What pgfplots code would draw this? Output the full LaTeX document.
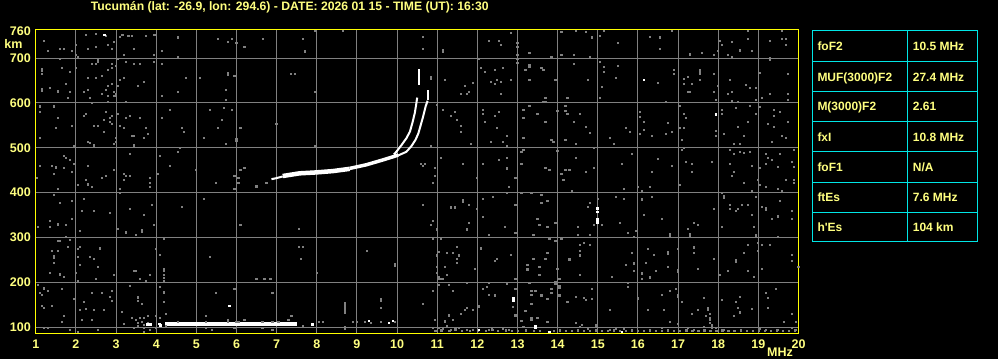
\documentclass[border=0pt]{standalone}
\usepackage{pgfplots}
\pgfplotsset{compat=1.18}
\usepackage{fontspec}
\setmainfont{Liberation Sans}
\definecolor{frameyellow}{RGB}{255,255,0}
\definecolor{textyellow}{RGB}{255,255,128}
\definecolor{noisegray}{RGB}{128,128,128}
\definecolor{tablecyan}{RGB}{0,230,230}
\newcommand\tfont{\fontsize{12bp}{14bp}\selectfont\bfseries}
\begin{document}
\begin{tikzpicture}
\fill[black] (0bp,0bp) rectangle (998bp,359bp);
\begin{axis}[
  at={(35.8bp,25.7bp)}, anchor=south west,
  scale only axis, width=762.7bp, height=303.8bp,
  xmin=1, xmax=20, ymin=86, ymax=764,
  axis background/.style={fill=black},
  axis line style={frameyellow, line width=1bp},
  xtick={1,...,20}, ytick={100,200,...,700},
  extra y ticks={760}, extra y tick style={grid=none},
  grid=major, major grid style={noisegray, line width=1bp},
  major tick length=0pt,
  /pgf/number format/assume math mode=true,
  tick label style={font=\fontsize{12.5bp}{14bp}\selectfont\bfseries, text=textyellow},
  xticklabel style={anchor=center, yshift=-10.7bp},
  yticklabel style={anchor=east, inner sep=0pt, xshift=-4.8bp},
  clip=true,
]
% gray noise
\addplot[only marks, mark=square*, mark size=0.6bp, noisegray, mark options={draw=none, fill=noisegray}] coordinates {
(2.24,753)(2.49,754)(2.74,750)(2.95,736)(3.10,748)(3.15,752)(3.30,750)(3.39,750)(3.74,750)(3.95,753)(4.54,747)(5.54,744)(5.79,737)(5.89,744)(5.99,735)(6.19,726)(6.65,744)(1.19,739)(1.99,730)(2.49,726)(2.79,730)(1.29,717)(1.59,721)(1.69,721)(1.89,717)(2.29,721)(2.89,721)(3.44,721)(4.14,717)(1.99,708)(2.04,703)(3.19,708)(3.94,708)(4.54,703)(1.59,699)(2.54,696)(2.39,688)(2.49,688)(2.54,692)(2.89,688)(3.04,698)(2.99,683)(3.24,692)(3.44,688)(3.59,688)(3.94,692)(4.14,688)(1.14,677)(1.14,672)(1.64,679)(1.14,666)(1.84,670)(2.89,679)(2.79,674)(1.99,679)(5.79,668)(5.79,664)(5.94,661)(2.29,657)(2.49,657)(2.64,661)(3.19,657)(3.09,652)(4.74,657)(5.09,657)(3.69,648)(1.74,643)(2.79,639)(2.89,643)(3.04,639)(3.54,639)(1.14,632)(1.14,628)(1.34,634)(1.54,628)(1.54,625)(1.84,625)(2.19,625)(2.29,630)(2.74,630)(2.64,621)(2.94,625)(2.99,621)(2.99,617)(4.54,625)(5.74,630)(1.79,612)(2.34,612)(2.79,616)(2.94,616)(4.14,616)(5.74,607)(2.39,601)(2.79,603)(3.24,603)
(1.09,593)(1.44,593)(1.09,581)(2.24,576)(2.19,572)(2.74,581)(2.89,572)(2.84,567)(3.04,576)(3.24,567)(3.34,572)(3.59,567)(4.14,567)(4.34,585)(5.34,585)(5.69,590)(5.89,585)(1.54,567)(2.69,563)(2.84,558)(2.89,554)(5.64,563)(1.89,549)(2.44,549)(2.54,549)(3.09,549)(3.19,545)(3.74,545)(4.64,545)(5.54,545)(6.09,545)(1.49,545)(6.99,554)(2.69,536)(4.69,536)(3.79,532)(3.39,527)(3.44,527)(1.09,523)(2.99,523)(3.69,523)(5.19,523)(5.99,520)(5.99,517)(2.29,514)(2.34,512)(2.44,507)(2.44,504)(2.94,509)(2.99,514)(3.44,507)(3.44,504)(5.74,509)(1.94,505)(4.59,500)
(1.69,483)(1.74,478)(1.84,474)(3.34,487)(4.09,483)(4.54,491)(1.94,465)(1.09,460)(1.39,460)(1.49,458)(1.49,456)(1.69,456)(2.29,460)(4.34,460)(6.09,451)(6.19,456)(1.89,447)(2.94,451)(4.99,451)(1.44,442)(2.74,438)(2.64,433)(3.19,442)(3.24,438)(3.34,438)(4.04,442)(5.94,438)(6.04,433)(2.24,429)(3.84,433)(1.02,433)(3.19,429)
(7.94,761)(8.64,761)(7.64,744)(7.69,714)(7.69,717)(10.64,748)(10.64,721)(11.14,718)(11.14,715)(12.84,757)(12.29,739)(12.54,739)(12.59,730)(12.99,735)(12.99,726)(13.29,712)(12.99,708)(12.04,699)(12.99,699)(7.35,666)(7.44,666)(7.94,625)(7.94,505)(10.84,659)(10.84,655)(11.19,652)(11.89,645)(11.69,639)(11.79,625)(11.59,621)(11.74,621)(12.09,679)(12.19,670)(12.44,674)(12.64,679)(12.84,652)(12.34,648)(12.44,643)(12.49,652)(12.59,648)(12.99,690)(13.29,686)(13.29,682)(13.29,652)(13.19,674)(13.59,679)(13.64,674)(12.59,621)(10.99,596)(11.14,585)(11.34,572)(11.44,581)(11.49,563)(11.59,549)(11.59,536)(12.14,585)(12.14,576)(12.54,581)(12.44,572)(12.19,558)(12.49,545)(13.29,594)(13.14,585)(13.49,576)(13.14,567)(12.74,527)(12.34,514)(12.64,514)(12.74,505)(13.14,523)(13.14,496)(13.09,491)(11.84,509)(11.09,478)(10.84,505)(10.59,465)(10.64,460)(10.69,465)(10.94,456)(10.94,438)(11.64,465)(12.14,465)(12.54,474)(12.74,478)(12.74,456)(12.74,453)(13.09,465)(11.99,433)(12.94,433)(13.64,603)
(14.09,759)(14.44,762)(14.69,759)(14.84,747)(15.04,751)(15.14,762)(15.49,735)(16.29,748)(16.54,747)(16.54,721)(16.84,762)(17.29,709)(17.59,712)(17.89,708)(17.99,717)(18.04,739)(18.09,730)(18.34,736)(18.54,718)(18.74,762)(18.74,744)(18.84,717)(18.24,708)(18.34,703)(19.29,739)(19.29,700)(19.59,762)(19.59,744)(19.69,744)(19.69,730)(13.84,703)(14.09,708)(14.39,708)(14.79,703)(14.39,688)(15.04,692)(15.14,681)(15.14,670)(15.49,683)(15.44,657)(14.74,652)(13.94,652)(16.49,645)(16.89,674)(16.89,666)(17.24,659)(17.14,654)(17.14,643)(17.34,643)(17.54,674)(17.54,670)(17.54,666)(17.54,652)(17.89,666)(18.29,652)(18.69,641)(18.79,634)(18.94,634)(17.99,639)(17.89,625)(18.24,621)(18.34,625)(17.24,625)(17.29,625)(15.09,637)(19.04,668)(19.29,697)(19.74,666)(19.74,621)(19.74,607)(19.09,612)(19.29,621)(18.94,607)(17.94,607)(18.34,605)(18.49,603)(16.69,603)(15.04,612)(14.24,612)(13.69,612)(13.69,603)(14.19,594)(13.99,583)(14.19,583)(14.24,576)(14.54,576)(13.69,558)(14.39,558)(14.69,547)(14.79,534)(13.84,518)(13.89,514)(14.19,518)(14.44,509)(15.29,523)(15.39,509)(15.69,545)(15.79,536)(16.04,581)(16.04,570)(16.14,558)(16.14,541)(16.04,532)(16.34,527)(16.69,532)(16.74,556)(16.84,536)(17.04,594)(17.14,576)(17.19,567)(17.04,545)(17.14,545)(17.09,518)(18.09,585)(18.09,576)(18.44,590)(17.94,538)(17.94,527)(18.14,532)(18.49,547)(18.64,527)(18.74,558)(18.39,509)(18.54,509)(18.79,594)(18.94,576)(19.04,592)(19.39,585)(19.54,581)(19.39,572)(19.24,554)(19.39,547)(19.74,558)(19.59,527)(19.69,523)(19.34,514)(14.89,500)(13.99,494)(14.44,478)(13.69,456)(13.79,451)(14.19,451)(14.29,451)(14.69,447)(14.89,456)(14.09,442)(14.14,429)(15.59,465)(15.84,487)(16.49,476)(16.84,460)(16.34,447)(17.19,469)(17.34,465)(17.34,447)(17.14,500)(17.09,496)(17.84,469)(18.29,496)(18.39,487)(18.54,491)(18.64,489)(18.79,491)(18.29,465)(18.34,438)(18.39,447)(18.84,460)(19.19,487)(19.24,478)(19.34,474)(19.54,487)(19.19,465)(19.49,458)(19.89,496)(19.89,458)(19.84,469)(19.04,456)(19.69,429)(19.89,429)(18.99,429)
(1.54,409)(2.04,418)(2.29,420)(2.29,417)(2.39,413)(3.09,409)(3.09,400)(3.84,422)(3.84,413)(5.49,422)(5.94,409)(6.04,422)(6.49,416)(6.49,413)(6.74,422)(1.44,395)(1.59,378)(1.89,382)(2.19,386)(2.14,360)(2.44,360)(2.84,355)(3.34,364)(3.69,351)(3.89,373)(4.64,369)(5.19,386)(6.09,328)(1.04,324)(1.34,337)(1.34,324)(1.54,331)(1.54,328)(1.74,328)(1.89,342)(2.09,315)(3.04,320)(3.24,313)(3.24,310)(3.49,306)(3.64,317)(3.64,314)(3.94,328)(1.74,302)(1.84,295)(1.54,293)(1.59,293)(1.79,279)(2.04,275)(2.09,279)(1.39,270)(1.54,270)(1.44,259)(1.44,256)(2.04,257)(2.34,257)(2.44,253)(2.59,277)(2.59,274)(2.09,239)(2.54,235)(1.44,244)(1.34,221)(1.59,219)(1.59,216)(1.69,212)(1.99,221)(2.49,208)(2.94,217)(2.04,203)(3.44,226)(3.49,226)(3.59,208)(3.74,203)(3.84,217)(3.99,275)(4.09,261)(4.19,297)(4.19,230)(4.19,225)(4.19,217)(4.19,210)(4.19,203)(5.34,257)(6.49,208)(6.69,208)(6.84,208)(1.04,195)(1.19,188)(1.19,185)(1.09,177)(1.14,172)(1.29,181)(1.64,186)(1.94,163)(2.19,157)(2.39,177)(2.64,177)(2.89,181)(2.84,168)(2.89,159)(3.34,192)(3.54,168)(3.54,165)(3.54,159)(3.64,152)(2.09,139)(2.24,141)(2.44,139)(2.69,139)(1.14,148)(1.19,143)(1.39,148)(4.09,190)(4.19,179)(4.19,176)(4.19,157)(5.49,177)(5.94,186)(6.89,177)(3.14,134)(1.69,125)(1.64,112)(2.14,116)(2.39,116)(3.39,121)(3.49,116)(3.59,121)(3.69,121)(3.79,125)(3.99,125)(4.09,121)(4.24,130)(5.24,125)(6.19,116)(7.29,116)(1.19,99)(1.29,99)(1.84,94)(2.04,90)(2.54,94)(3.19,107)(3.44,99)(3.69,99)(3.69,90)(3.84,94)(3.99,99)(4.24,103)(5.24,99)(5.39,94)(5.79,116)(5.94,99)(6.64,99)(6.89,94)(3.64,112)(3.69,106)(3.79,110)(4.54,112)(5.24,112)(5.79,112)(5.99,112)(6.04,112)(6.64,112)(6.89,112)(7.04,112)(3.54,110)(3.54,102)
(10.89,422)(12.79,413)(12.74,400)(13.09,400)(13.34,400)(13.59,395)(13.59,378)(12.39,391)(12.14,386)(11.64,380)(11.64,383)(11.79,373)(11.34,366)(11.34,369)(11.44,366)(11.44,369)(10.64,373)(11.99,364)(12.14,346)(12.94,373)(13.49,342)(13.54,328)(12.69,324)(13.39,306)(12.94,311)(12.29,306)(11.79,333)(11.74,317)(11.74,320)(10.99,317)(10.99,320)(10.89,337)(10.84,328)(7.54,320)(7.54,279)(7.64,279)(7.59,253)(9.24,270)(9.94,237)(9.94,240)(7.99,221)(10.89,297)(11.09,297)(11.49,279)(12.09,277)(12.09,274)(11.04,268)(11.24,266)(11.39,266)(10.99,259)(10.99,262)(11.54,259)(11.54,262)(11.49,253)(11.49,244)(11.19,235)(10.99,235)(10.99,221)(11.24,217)(11.04,208)(11.09,208)(11.14,208)(11.04,211)(11.94,230)(12.44,248)(12.49,253)(12.84,261)(12.94,208)(13.24,239)(13.24,228)(13.24,231)(13.54,235)(13.54,217)(13.39,253)(11.74,199)(12.29,199)(12.74,197)(13.29,199)(11.04,195)(11.29,195)(11.39,181)(10.89,181)(12.14,186)(12.24,190)(12.44,170)(12.44,173)(12.29,172)(12.94,186)(13.34,181)(13.44,181)(13.34,172)(13.59,170)(13.59,173)(13.34,152)(13.19,136)(13.49,121)(9.59,163)(9.59,159)(9.59,143)(8.69,154)(8.69,150)(8.69,145)(8.69,140)(8.69,135)(8.69,132)(8.69,100)(8.69,96)(10.64,152)(12.04,145)(12.04,148)(11.69,139)(11.74,143)(11.89,139)(11.59,130)(11.29,125)(11.29,128)(10.94,116)(11.19,112)(11.19,115)(11.39,116)(7.36,125)(8.04,112)(8.14,112)(8.89,112)(8.99,112)(9.19,112)(9.34,110)(9.59,112)(9.94,112)(7.89,105)(7.64,103)(10.89,99)(11.04,99)(11.14,96)(11.24,103)(11.34,94)(11.54,99)(11.74,94)(11.89,94)(12.29,94)(12.39,94)(12.64,96)(12.79,94)(12.94,125)(12.94,128)(13.34,121)(13.34,118)(13.14,101)(13.09,114)(12.89,145)(13.34,116)
(14.34,404)(15.64,409)(15.99,413)(16.09,404)(16.29,413)(17.04,418)(18.64,422)(18.84,404)(19.04,418)(19.19,413)(19.49,409)(19.59,404)(19.89,422)(13.74,382)(14.79,378)(14.74,369)(14.99,386)(15.44,391)(15.64,386)(16.09,384)(16.09,387)(16.34,391)(18.09,400)(18.14,389)(18.14,392)(18.29,373)(18.29,364)(18.44,360)(18.49,364)(18.59,373)(18.74,373)(18.94,391)(19.09,369)(19.19,362)(19.19,365)(19.54,382)(19.84,360)(19.84,342)(19.49,346)(19.49,349)(19.34,342)(18.84,351)(16.14,351)(16.59,342)(17.89,364)(13.74,324)(13.94,333)(14.49,324)(14.79,306)(14.49,306)(14.89,328)(15.09,328)(15.54,333)(15.74,311)(15.89,302)(15.94,315)(16.79,304)(16.79,307)(17.29,304)(17.29,307)(17.24,320)(17.39,333)(17.49,328)(18.09,324)(18.89,324)(18.94,302)(18.94,305)(19.49,302)(13.79,297)(13.94,293)(14.09,297)(14.54,284)(14.64,288)(14.79,284)(14.54,270)(14.54,259)(14.54,262)(14.29,250)(14.29,253)(13.74,266)(13.69,253)(13.99,230)(14.54,217)(15.34,212)(15.69,239)(15.84,266)(15.89,241)(15.89,244)(15.89,226)(16.09,219)(16.09,222)(16.09,208)(16.19,244)(16.24,275)(16.39,261)(16.44,226)(16.29,210)(16.29,213)(16.74,264)(16.74,267)(16.74,235)(16.99,275)(16.99,224)(16.99,227)(17.39,277)(17.39,280)(17.39,266)(17.49,230)(17.89,253)(18.04,217)(18.24,226)(18.44,246)(18.44,249)(18.64,266)(18.74,226)(18.74,284)(18.89,212)(18.99,288)(19.09,230)(19.09,284)(19.29,284)(18.99,270)(19.84,261)(19.84,248)(19.99,235)(14.04,208)(13.94,197)(13.94,200)(14.04,188)(14.04,191)(13.84,186)(13.84,177)(14.04,170)(14.04,173)(13.74,163)(14.24,157)(14.44,168)(14.64,165)(14.69,161)(14.84,163)(14.84,186)(15.74,199)(15.74,190)(15.99,163)(15.99,166)(15.29,139)(16.24,139)(16.59,172)(16.64,139)(16.79,181)(16.94,186)(16.99,168)(16.99,171)(17.09,157)(17.34,130)(17.49,139)(17.64,165)(17.74,143)(17.74,140)(17.69,125)(17.79,130)(17.79,120)(17.79,116)(17.79,110)(17.84,99)(17.84,104)(17.64,101)(18.09,161)(18.44,157)(18.54,168)(18.54,132)(18.54,135)(18.49,143)(18.39,125)(18.84,141)(19.19,177)(19.24,165)(19.24,143)(19.44,186)(19.84,130)(19.64,112)(19.94,112)(13.74,112)(14.44,110)(14.54,101)(14.59,105)(14.74,96)(14.94,101)(14.94,104)(15.29,94)(15.44,96)(15.44,99)(15.64,96)(16.79,112)(16.59,99)(16.99,107)(17.24,99)(17.39,94)(17.94,99)(18.14,94)(19.04,96)(19.19,94)(19.49,94)(19.84,99)(19.94,94)
(10.95,91)(11.1,93)(11.3,91)(11.45,95)(11.6,91)(11.8,91)(12.0,93)(12.2,91)(12.35,95)(12.5,91)(12.7,93)(12.85,91)(13.0,91)(13.2,93)(13.4,91)(13.55,91)(13.9,91)(14.05,93)(14.2,91)(14.35,91)(14.5,93)(14.65,91)(14.8,91)(14.95,93)(15.1,91)(15.25,91)(15.4,93)(15.55,91)(15.7,91)(15.85,93)(16.0,91)(16.15,91)(16.3,93)(16.45,91)(16.6,91)(16.75,93)(16.9,91)(17.05,91)(17.2,93)(17.35,91)(17.5,91)(17.65,93)(17.8,91)(17.95,91)(18.1,93)(18.25,91)(18.4,91)(18.55,93)(18.7,91)(18.85,91)(19.0,93)(19.15,91)(19.3,91)(19.45,93)(19.6,91)(19.75,91)(19.9,93)
};
% white isolated points
\addplot[only marks, mark=square*, mark size=0.7bp, white, mark options={draw=none, fill=white}] coordinates {
(2.70,753)(16.14,652)(17.94,575)(5.82,148)(9.29,114)(9.79,110)(9.89,114)(12.04,94)(13.44,103)(13.44,99)(13.79,90)(15.59,90)(12.89,165)(12.89,160)(14.99,365)(14.99,358)(14.99,341)(14.99,334)(3.78,106)(3.85,106)(4.07,108)(4.10,104)(7.89,106)
};
% Es trace
\addplot[white, line width=4bp, line cap=butt] coordinates {(4.23,106)(7.51,106)};
% F trace, common part
\addplot[white, line width=2bp] coordinates {(6.87,430)(6.98,432)(7.15,436)};
\addplot[white, line width=4.5bp] coordinates {(7.15,437)(7.57,443)(7.98,445)(8.40,448)(8.82,453)};
\addplot[white, line width=3.5bp] coordinates {(8.82,454)(9.23,462)(9.65,473)(9.90,480)(10.03,484)};
% O branch
\addplot[white, line width=2bp] coordinates {(9.92,485)(9.98,491)(10.11,506)(10.23,521)(10.32,536)(10.38,555)(10.44,577)(10.48,599)(10.50,612)};
\addplot[white, line width=2bp] coordinates {(10.54,640)(10.54,676)};
% X branch
\addplot[white, line width=2bp] coordinates {(10.03,483)(10.23,491)(10.36,504)(10.46,518)(10.53,532)(10.59,551)(10.65,570)(10.71,592)(10.76,605)};
\addplot[white, line width=2bp] coordinates {(10.78,607)(10.78,629)};
\end{axis}
% labels and table
\begin{scope}[x=1bp,y=1bp]
\node[anchor=base west, inner sep=0pt, text=textyellow, font=\fontsize{12.2bp}{14bp}\selectfont\bfseries] at (90.7,348.3) {Tucumán (lat: -26.9, lon: 294.6) - DATE: 2026 01 15 - TIME (UT): 16:30};
\node[anchor=center, inner sep=0pt, text=textyellow, font=\fontsize{12.5bp}{14bp}\selectfont\bfseries] at (13.5,315) {km};
\node[anchor=center, inner sep=0pt, text=textyellow, font=\fontsize{12.5bp}{14bp}\selectfont\bfseries] at (780,7) {MHz};
\draw[tablecyan, line width=1bp] (812.3,117) rectangle (977.3,328.3);
\draw[tablecyan, line width=1bp] (907.3,117) -- (907.3,328.3);
\foreach \yy in {297.3,267.7,237.7,207.3,176.7,146.7} {\draw[tablecyan, line width=1bp] (812.3,\yy) -- (977.3,\yy);}
\foreach \yy/\la/\va in {308.3/foF2/10.5 MHz, 278/MUF(3000)F2/27.4 MHz, 248.2/M(3000)F2/2.61, 218/fxI/10.8 MHz, 187.5/foF1/N\slash A, 157.2/ftEs/7.6 MHz, 127.3/h\textquotesingle Es/104 km} {
  \node[anchor=base west, inner sep=0pt, text=textyellow, font=\tfont] at (817.3,\yy) {\la};
  \node[anchor=base west, inner sep=0pt, text=textyellow, font=\tfont] at (912.7,\yy) {\va};
}
\end{scope}
\pgfresetboundingbox
\useasboundingbox (0bp,0bp) rectangle (998bp,359bp);
\end{tikzpicture}
\end{document}
